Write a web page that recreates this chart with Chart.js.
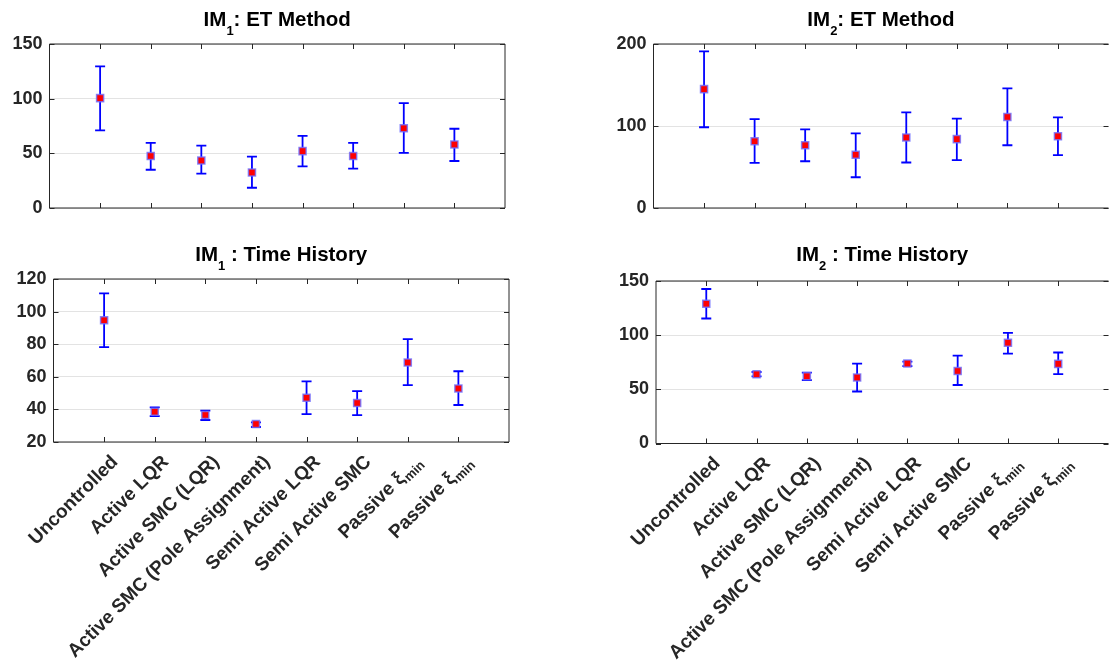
<!DOCTYPE html>
<html lang="en">
<head>
  <meta charset="UTF-8">
  <title>IM1 / IM2: ET Method and Time History</title>
  <script src="https://cdn.jsdelivr.net/npm/chart.js"></script>
  <style>
    html, body {
      margin: 0;
      padding: 0;
      background: #fff;
    }
    #page {
      position: relative;
      width: 1110px;
      height: 664px;
      overflow: hidden;
    }
    canvas {
      position: absolute;
    }
  </style>
</head>
<body>
  <div id="page">
    <canvas id="tl" width="555" height="230" style="left:0;top:0"></canvas>
    <canvas id="tr" width="560" height="230" style="left:555px;top:0"></canvas>
    <canvas id="bl" width="555" height="434" style="left:0;top:230px"></canvas>
    <canvas id="br" width="560" height="434" style="left:555px;top:230px"></canvas>
  </div>

  <script>
    // categories (last two carry a "min" subscript)
    const categories = ['Uncontrolled', 'Active LQR', 'Active SMC (LQR)', 'Active SMC (Pole Assignment)',
                        'Semi Active LQR', 'Semi Active SMC', 'Passive \u03BE', 'Passive \u03BE'];
    const categorySubs = ['', '', '', '', '', '', 'min', 'min'];

    // IM1 : ET method
    const im1EtMean = [100.5, 47.5, 43.5, 32.5, 52, 47.5, 73, 58];
    const im1EtLow  = [71, 35, 31.5, 18.5, 38, 36, 50.5, 43];
    const im1EtHigh = [129.5, 59.5, 57, 47, 66, 59.5, 96, 72.5];

    // IM2 : ET method
    const im2EtMean = [145, 81.5, 76.5, 65, 86, 84, 111, 87.5];
    const im2EtLow  = [98.5, 55, 57, 37.5, 55.5, 58.5, 76.5, 64.5];
    const im2EtHigh = [191, 108.5, 96, 91, 116.5, 109, 146, 110.5];

    // IM1 : time history
    const im1ThMean = [94.7, 38.6, 36.6, 31, 47.1, 43.9, 68.8, 52.8];
    const im1ThLow  = [78.2, 35.9, 33.5, 29.2, 37.1, 36.5, 54.9, 42.7];
    const im1ThHigh = [111.2, 41.2, 39.3, 32, 57.2, 51.2, 83.1, 63.4];

    // IM2 : time history
    const im2ThMean = [129, 64, 62, 61, 73.8, 67, 93, 73.5];
    const im2ThLow  = [115.4, 62, 58.5, 48, 71.5, 54, 83, 64];
    const im2ThHigh = [142.6, 66, 65.5, 73.8, 75.6, 81.2, 102.2, 84];

    // y axis ranges
    const im1EtTicks = { min: 0, max: 150, step: 50 };
    const im2EtTicks = { min: 0, max: 200, step: 100 };
    const im1ThTicks = { min: 20, max: 120, step: 20 };
    const im2ThTicks = { min: 0, max: 150, step: 50 };

    const FONT = '"Liberation Sans", Arial, Helvetica, sans-serif';
    const TEXT = '#262626';

    function makePlot(id, cfg) {
      const canvas = document.getElementById(id);
      const W = canvas.width, H = canvas.height;

      // error bars, frame, inward ticks, title and rotated category labels
      const frame = {
        id: 'frame_' + id,
        beforeDatasetsDraw(chart) {
          const { ctx, scales: { x, y } } = chart;
          ctx.save();
          ctx.strokeStyle = '#0000ff';
          ctx.lineWidth = 1.8;
          cfg.low.forEach((lo, i) => {
            const px = x.getPixelForValue(i + 1);
            const y1 = y.getPixelForValue(lo);
            const y2 = y.getPixelForValue(cfg.high[i]);
            ctx.beginPath();
            ctx.moveTo(px, y1); ctx.lineTo(px, y2);
            ctx.moveTo(px - 5, y1); ctx.lineTo(px + 5, y1);
            ctx.moveTo(px - 5, y2); ctx.lineTo(px + 5, y2);
            ctx.stroke();
          });
          ctx.restore();
        },
        afterDraw(chart) {
          const { ctx, chartArea: a, scales: { x, y } } = chart;
          ctx.save();
          ctx.strokeStyle = TEXT;
          ctx.lineWidth = 1;
          ctx.beginPath();
          ctx.moveTo(a.right, a.top); ctx.lineTo(a.left, a.top);
          ctx.lineTo(a.left, a.bottom); ctx.lineTo(a.right, a.bottom);
          // the right plots run off the page, as in the original figure
          if (!cfg.openRight) {
            ctx.lineTo(a.right, a.top);
          }
          ctx.stroke();

          ctx.beginPath();
          for (let i = 1; i <= categories.length; i++) {
            const px = Math.round(x.getPixelForValue(i)) + 0.5;
            ctx.moveTo(px, a.bottom); ctx.lineTo(px, a.bottom - 5);
            ctx.moveTo(px, a.top); ctx.lineTo(px, a.top + 5);
          }
          y.ticks.forEach(t => {
            const py = Math.round(y.getPixelForValue(t.value)) + 0.5;
            ctx.moveTo(a.left, py); ctx.lineTo(a.left + 5, py);
            ctx.moveTo(a.right, py); ctx.lineTo(a.right - 5, py);
          });
          ctx.stroke();

          // title: IM + subscript + rest
          const big = 'bold 20.5px ' + FONT, small = 'bold 13px ' + FONT;
          ctx.fillStyle = '#000';
          ctx.textBaseline = 'alphabetic';
          ctx.textAlign = 'left';
          ctx.font = big;
          const w1 = ctx.measureText('IM').width;
          const w3 = ctx.measureText(cfg.titleRest).width;
          ctx.font = small;
          const w2 = ctx.measureText(cfg.titleSub).width;
          let tx = (a.left + a.right) / 2 - (w1 + w2 + w3) / 2;
          const ty = a.top - cfg.titleGap;
          ctx.font = big;
          ctx.fillText('IM', tx, ty);
          ctx.font = small;
          ctx.fillText(cfg.titleSub, tx + w1, ty + 9);
          ctx.font = big;
          ctx.fillText(cfg.titleRest, tx + w1 + w2, ty);

          if (cfg.labels) {
            ctx.fillStyle = TEXT;
            ctx.textBaseline = 'middle';
            const main = 'bold 19px ' + FONT, sub = 'bold 13px ' + FONT;
            categories.forEach((name, i) => {
              const px = x.getPixelForValue(i + 1);
              ctx.save();
              ctx.translate(px + 11, a.bottom + 17);
              ctx.rotate(-Math.PI / 4);
              ctx.font = main;
              const m = ctx.measureText(name).width;
              ctx.font = sub;
              const s = categorySubs[i] ? ctx.measureText(categorySubs[i]).width + 1 : 0;
              ctx.font = main;
              ctx.fillText(name, -(m + s), 0);
              if (s) {
                ctx.font = sub;
                ctx.fillText(categorySubs[i], -s + 1, 6);
              }
              ctx.restore();
            });
          }
          ctx.restore();
        }
      };

      return new Chart(canvas, {
        type: 'scatter',
        data: {
          datasets: [{
            data: cfg.mean.map((v, i) => ({ x: i + 1, y: v })),
            pointStyle: 'rect',
            pointRadius: 5,
            pointHoverRadius: 5,
            backgroundColor: '#ff0000',
            borderColor: 'rgba(110, 110, 255, 0.8)',
            borderWidth: 1.5
          }]
        },
        options: {
          responsive: false,
          animation: false,
          events: [],
          layout: {
            padding: { top: cfg.box.top, right: W - cfg.box.right, bottom: 0, left: 0 }
          },
          plugins: {
            legend: { display: false },
            tooltip: { enabled: false }
          },
          scales: {
            x: {
              type: 'linear',
              min: 0,
              max: 9,
              ticks: { display: false },
              grid: { display: false },
              border: { display: false },
              afterFit: s => { s.height = H - cfg.box.bottom; }
            },
            y: {
              min: cfg.ticks.min,
              max: cfg.ticks.max,
              ticks: {
                stepSize: cfg.ticks.step,
                padding: 7,
                color: TEXT,
                font: { family: FONT, size: 18, weight: 'bold' }
              },
              grid: { color: '#e3e3e3', drawTicks: false },
              border: { display: false },
              afterFit: s => { s.width = cfg.box.left; }
            }
          }
        },
        plugins: [frame]
      });
    }

    makePlot('tl', {
      mean: im1EtMean, low: im1EtLow, high: im1EtHigh, ticks: im1EtTicks,
      titleSub: '1', titleRest: ': ET Method', titleGap: 18,
      box: { left: 49.5, top: 44, right: 505, bottom: 208 }
    });
    makePlot('tr', {
      mean: im2EtMean, low: im2EtLow, high: im2EtHigh, ticks: im2EtTicks,
      titleSub: '2', titleRest: ': ET Method', titleGap: 18, openRight: true,
      box: { left: 98.5, top: 44, right: 556, bottom: 208 }
    });
    makePlot('bl', {
      mean: im1ThMean, low: im1ThLow, high: im1ThHigh, ticks: im1ThTicks,
      titleSub: '1', titleRest: ' : Time History', titleGap: 18.5, labels: true,
      box: { left: 53.5, top: 49, right: 509, bottom: 212 }
    });
    makePlot('br', {
      mean: im2ThMean, low: im2ThLow, high: im2ThHigh, ticks: im2ThTicks,
      titleSub: '2', titleRest: ' : Time History', titleGap: 20, labels: true, openRight: true,
      box: { left: 101, top: 51, right: 557, bottom: 213.5 }
    });
  </script>
</body>
</html>
